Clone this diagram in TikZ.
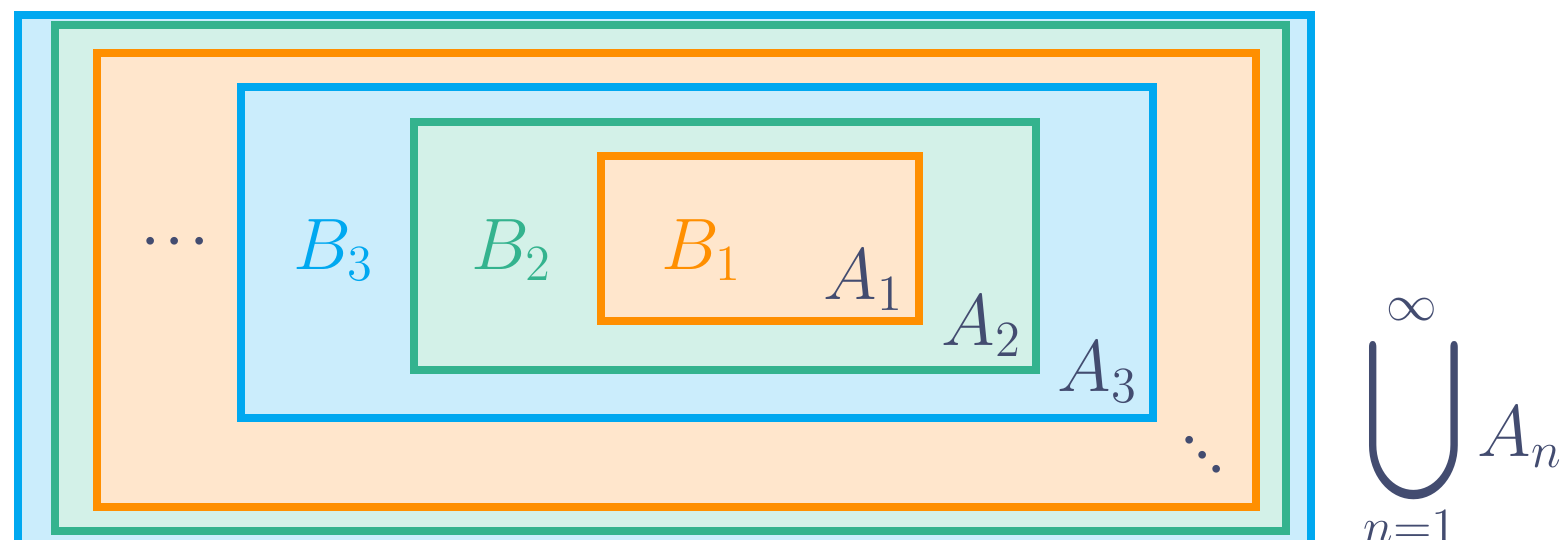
\documentclass[tikz,border=0pt]{standalone}
\usepackage{amsmath}
\usepackage{graphicx}
\definecolor{setblue}{HTML}{00A8F0}
\definecolor{setgreen}{HTML}{34B38E}
\definecolor{setorange}{HTML}{FF8F00}
\definecolor{fillblue}{HTML}{CBEDFC}
\definecolor{fillgreen}{HTML}{D3F1E8}
\definecolor{fillorange}{HTML}{FFE6CC}
\definecolor{ink}{HTML}{434C70}

\begin{document}
\begin{tikzpicture}[x=0.01cm,y=-0.01cm,
  box/.style={line width=2.15pt},
  lbl/.style={font=\fontsize{20}{24}\selectfont,text=ink,inner sep=0pt},
  small/.style={lbl,font=\fontsize{14}{17}\selectfont}]
\useasboundingbox (0,0) rectangle (1564,540);
% nested sets, outside in
\draw[box,draw=setblue,fill=fillblue] (18,15) rectangle (1311,552);
\draw[box,draw=setgreen,fill=fillgreen] (55,25) rectangle (1286,531);
\draw[box,draw=setorange,fill=fillorange] (97,53) rectangle (1256,507);
\draw[box,draw=setblue,fill=fillblue] (241,87) rectangle (1153,418);
\draw[box,draw=setgreen,fill=fillgreen] (414,122) rectangle (1036,370);
\draw[box,draw=setorange,fill=fillorange] (601,156) rectangle (919,321);
% labels
\node[lbl] (dotsL) at (175,243) {${\cdot}\mkern1mu{\cdot}\mkern1mu{\cdot}$};
\node[lbl,text=setblue] (B3) at (334,250) {$B_3$};
\node[lbl,text=setgreen] (B2) at (512,250) {$B_2$};
\node[lbl,text=setorange] (B1) at (702,250) {$B_1$};
\node[lbl] (A1) at (864,280) {$A_1$};
\node[lbl] (A2) at (982,326) {$A_2$};
\node[lbl] (A3) at (1098,372) {$A_3$};
\node[lbl] (dotsR) at (1203,457) {$\raisebox{8.2pt}{$\cdot$}\mkern-1.7mu\raisebox{4.1pt}{$\cdot$}\mkern-1.7mu{\cdot}$};
% union
\node[lbl] (cup) at (1414,421) {\scalebox{1.22}[1.55]{$\displaystyle\bigcup$}};
\node[small] (inf) at (1412,310) {$\infty$};
\node[small] (lim) at (1410,527) {$n{=}1$};
\node[lbl] (An) at (1520,437) {$A_n$};
\end{tikzpicture}
\end{document}
